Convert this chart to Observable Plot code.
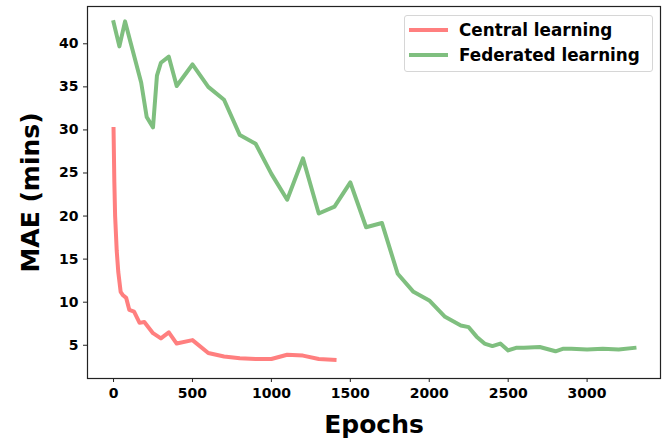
<!DOCTYPE html>
<html>
<head>
<meta charset="utf-8">
<script src="https://cdn.jsdelivr.net/npm/d3@7"></script>
<script src="https://cdn.jsdelivr.net/npm/@observablehq/plot@0.6"></script>
<style>
  html, body { margin: 0; padding: 0; background: #fff; }
  #wrap { position: relative; width: 668px; height: 439px; font-family: "DejaVu Sans", sans-serif; }
  #legend { position: absolute; left: 404px; top: 15px; width: 247px; height: 55px;
    border: 1px solid #d6d6d6; border-radius: 3px; background: rgba(255,255,255,0.8); }
  .row { position: absolute; left: 0; display: flex; align-items: center; height: 20px; }
  .swatch { width: 39px; height: 4px; margin-left: 4px; margin-right: 11px; }
  .lbl { font-weight: bold; font-size: 16.8px; color: #000; white-space: nowrap; }
</style>
</head>
<body>
<div id="wrap"></div>
<script>
// ---- data ----
const seriesNames = ["Central learning", "Federated learning"];
const seriesColors = ["#ff7f7f", "#7fbf7f"];

const centralEpochs = [0, 5, 10, 20, 30, 45, 60, 80, 100, 130, 165, 195, 250, 300, 350, 400, 500, 600, 700, 800, 900, 1000, 1100, 1200, 1300, 1400];
const centralMAE    = [30.1, 24.0, 20.0, 16.0, 13.5, 11.2, 10.8, 10.5, 9.1, 8.9, 7.6, 7.7, 6.4, 5.8, 6.5, 5.2, 5.6, 4.1, 3.7, 3.5, 3.4, 3.4, 3.9, 3.8, 3.4, 3.3];

const fedEpochs = [0, 37, 73, 110, 175, 210, 250, 275, 300, 350, 400, 500, 600, 700, 800, 900, 1000, 1100, 1200, 1300, 1400, 1500, 1600, 1700, 1800, 1900, 2000, 2100, 2200, 2250, 2300, 2350, 2400, 2450, 2500, 2550, 2600, 2700, 2800, 2850, 2900, 3000, 3100, 3200, 3300];
const fedMAE    = [42.5, 39.7, 42.6, 40.0, 35.5, 31.5, 30.3, 36.3, 37.8, 38.5, 35.1, 37.6, 35.0, 33.5, 29.4, 28.4, 24.9, 21.9, 26.7, 20.3, 21.1, 23.9, 18.7, 19.2, 13.3, 11.2, 10.2, 8.3, 7.3, 7.1, 6.0, 5.2, 4.9, 5.2, 4.4, 4.7, 4.7, 4.8, 4.3, 4.6, 4.6, 4.5, 4.6, 4.5, 4.7];

const xTicks = [0, 500, 1000, 1500, 2000, 2500, 3000];
const yTicks = [5, 10, 15, 20, 25, 30, 35, 40];
const xLabel = "Epochs";
const yLabel = "MAE (mins)";

// ---- tables ----
const central = centralEpochs.map((e, i) => ({epoch: e, mae: centralMAE[i], series: seriesNames[0]}));
const fed = fedEpochs.map((e, i) => ({epoch: e, mae: fedMAE[i], series: seriesNames[1]}));

const font = "DejaVu Sans";
const chart = Plot.plot({
  width: 668,
  height: 439,
  marginLeft: 87,
  marginRight: 8,
  marginTop: 6,
  marginBottom: 61,
  style: {background: "#fff", color: "#000", fontFamily: font},
  x: {domain: [-165, 3465]},
  y: {domain: [1.14, 44.33]},
  marks: [
    Plot.line(central, {x: "epoch", y: "mae", stroke: seriesColors[0], strokeWidth: 4, strokeLinejoin: "round", strokeLinecap: "square"}),
    Plot.line(fed, {x: "epoch", y: "mae", stroke: seriesColors[1], strokeWidth: 4, strokeLinejoin: "round", strokeLinecap: "square"}),
    Plot.frame({stroke: "#222", strokeWidth: 1.2}),
    Plot.axisX({ticks: xTicks, tickFormat: d => String(d), tickSize: 4, tickPadding: 6, label: null,
      fontSize: 14, fontWeight: "bold", stroke: "#222"}),
    Plot.axisY({ticks: yTicks, tickFormat: d => String(d), tickSize: 4, tickPadding: 5, label: null,
      fontSize: 14, fontWeight: "bold", stroke: "#222"}),
    Plot.text([xLabel], {frameAnchor: "bottom", dy: 46, text: d => d, fontSize: 25, fontWeight: "bold", fill: "#000", lineAnchor: "middle", textAnchor: "middle"}),
    Plot.text([yLabel], {frameAnchor: "left", dx: -57, rotate: -90, text: d => d, fontSize: 25, fontWeight: "bold", fill: "#000", lineAnchor: "middle", textAnchor: "middle"})
  ]
});
const wrap = document.getElementById("wrap");
wrap.appendChild(chart);

// legend
const leg = document.createElement("div");
leg.id = "legend";
seriesNames.forEach((name, i) => {
  const row = document.createElement("div");
  row.className = "row";
  row.style.top = (i === 0 ? 4 : 29) + "px";
  row.innerHTML = `<div class="swatch" style="background:${seriesColors[i]}"></div><div class="lbl">${name}</div>`;
  leg.appendChild(row);
});
wrap.appendChild(leg);
</script>
</body>
</html>
